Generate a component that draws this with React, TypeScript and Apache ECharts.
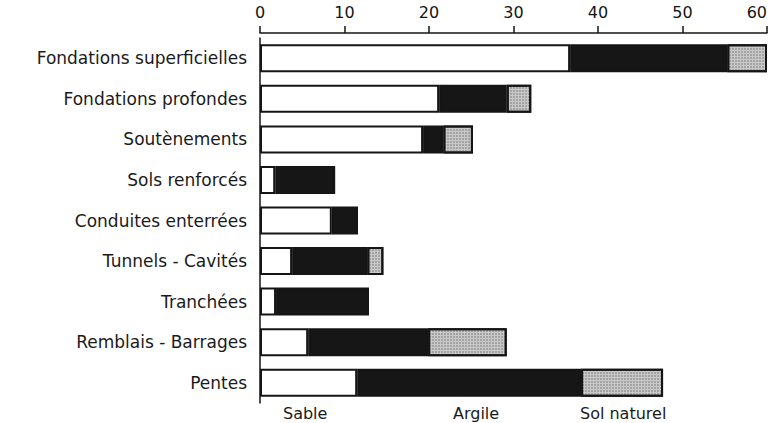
import React, { useEffect, useRef } from "react";
import * as echarts from "echarts";

const categories = [
  "Fondations superficielles",
  "Fondations profondes",
  "Soutènements",
  "Sols renforcés",
  "Conduites enterrées",
  "Tunnels - Cavités",
  "Tranchées",
  "Remblais - Barrages",
  "Pentes",
];
const sable = [36.7, 21.2, 19.3, 1.8, 8.5, 3.8, 1.9, 5.7, 11.5];
const argile = [18.6, 8.0, 2.4, 7.1, 3.1, 8.9, 11.0, 14.2, 26.5];
const solNaturel = [4.7, 2.9, 3.5, 0, 0, 1.9, 0, 9.3, 9.7];
const legendNames = ["Sable", "Argile", "Sol naturel"];
const legendX = [283, 453, 580];

const FONT = "DejaVu Sans";

export default function App() {
  const ref = useRef<HTMLDivElement>(null);
  useEffect(() => {
    if (!ref.current) return;
    const chart = echarts.init(ref.current, undefined, { renderer: "svg" });
    const border = { borderColor: "#151515", borderWidth: 2 };
    const mk = (name: string, data: number[], style: any) => ({
      name,
      type: "bar",
      stack: "total",
      data: data.map((v) => (v === 0 ? null : v)),
      barWidth: 28,
      itemStyle: { ...border, ...style },
      emphasis: { disabled: true },
    });
    chart.setOption({
      animation: false,
      backgroundColor: "#fff",
      grid: { left: 260, right: 7, top: 38, bottom: 20, containLabel: false },
      xAxis: {
        type: "value",
        position: "top",
        min: 0,
        max: 60,
        interval: 10,
        offset: 5,
        axisLine: { show: true, lineStyle: { color: "#151515", width: 1.5 } },
        axisTick: { show: true, length: 7, lineStyle: { color: "#151515", width: 1.5 } },
        axisLabel: {
          color: "#151515",
          fontSize: 16,
          fontFamily: FONT,
          margin: 13,
          alignMaxLabel: "right",
        },
        splitLine: { show: false },
      },
      yAxis: {
        type: "category",
        inverse: true,
        data: categories,
        axisLine: { show: true, lineStyle: { color: "#151515", width: 1.5 } },
        axisTick: { show: false },
        axisLabel: { color: "#1a1a1a", fontSize: 17, fontFamily: FONT, margin: 13 },
      },
      series: [
        mk("Sable", sable, { color: "#ffffff" }),
        mk("Argile", argile, { color: "#161616" }),
        mk("Sol naturel", solNaturel, {
          color: "#c8c8c8",
          decal: {
            symbol: "rect",
            symbolSize: 0.7,
            dashArrayX: [2, 1],
            dashArrayY: [2, 1],
            color: "rgba(70,70,70,0.55)",
            rotation: 0,
          },
        }),
      ],
      graphic: legendNames.map((n, i) => ({
        type: "text",
        left: legendX[i],
        top: 405,
        style: { text: n, fontSize: 16, fontFamily: FONT, fill: "#1a1a1a" },
      })),
    });
    return () => chart.dispose();
  }, []);
  return (
    <div
      ref={ref}
      style={{ position: "absolute", left: 0, top: 0, width: 774, height: 423 }}
    />
  );
}
